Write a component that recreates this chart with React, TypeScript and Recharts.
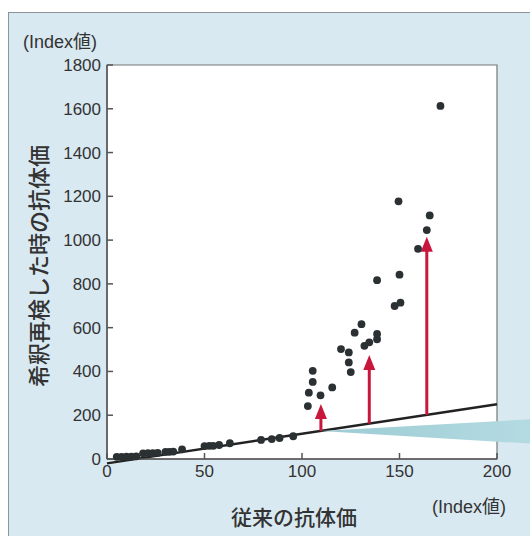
import { ScatterChart, Scatter, XAxis, YAxis, ReferenceLine, ReferenceArea, Label } from "recharts";

// axis ticks
const xTicks = [0, 50, 100, 150, 200];
const yTicks = [0, 200, 400, 600, 800, 1000, 1200, 1400, 1600, 1800];

// samples that sit on the fitted line (従来法 ≒ 再検)
const lowX = [5, 7.5, 10, 12.5, 15, 18.5, 21, 23.5, 26, 30, 32, 34, 38.5, 50, 52.5, 54.5, 57.5, 63, 79, 84.5, 88.5, 95.5];
const lowY = [10, 10, 11, 11, 12, 26, 27, 27, 28, 33, 33, 34, 44, 59, 60, 60, 64, 72, 87, 91, 96, 104];

// samples that jumped up after dilution re-test
const highX = [103, 103.5, 105.5, 105.5, 109.5, 115.5, 120, 124, 124, 125, 127, 130.5, 132, 134.5, 138.5, 138.5, 138.5, 147.5, 150.5, 150, 149.5, 159.5, 164, 165.5, 171];
const highY = [242, 303, 352, 403, 291, 327, 502, 487, 441, 397, 577, 616, 517, 533, 547, 571, 817, 699, 714, 842, 1177, 960, 1046, 1113, 1613];

// fitted line end points
const fitX = [0, 200];
const fitY = [-20, 250];

// red arrows: x, from (on line), to
const arrowX = [109.7, 134.5, 164];
const arrowFrom = [128, 162, 201];
const arrowTo = [251, 475, 1015];

const points = [...lowX.map((x, i) => ({ x, y: lowY[i] })), ...highX.map((x, i) => ({ x, y: highY[i] }))];
const wedge = [{ x: arrowX[0], y: arrowFrom[0] }];

const RED = "#c8163c";
const DOT = "#2b3133";
const TEXT = "#333";
const FONT = "'Liberation Sans', 'Noto Sans CJK JP', sans-serif";

const Dot = (props: any) => <circle cx={props.cx} cy={props.cy} r={3.9} fill={DOT} />;

const Wedge = (props: any) => {
  const { cx, cy } = props;
  return (
    <g>
      <defs>
        <linearGradient id="wedgeFill" x1="0" y1="0" x2="1" y2="0">
          <stop offset="0" stopColor="#9ccbd4" />
          <stop offset="1" stopColor="#b5dbe2" />
        </linearGradient>
      </defs>
      <polygon points={`${cx},${cy} ${cx + 215},${cy - 12} ${cx + 215},${cy + 13}`} fill="url(#wedgeFill)" />
    </g>
  );
};

const Arrow = (props: any) => {
  const { x1, y1, x2, y2 } = props;
  const top = Math.min(y1, y2);
  const bottom = Math.max(y1, y2);
  const x = (x1 + x2) / 2;
  return (
    <g>
      <line x1={x} y1={bottom} x2={x} y2={top + 12} stroke={RED} strokeWidth={3} />
      <polygon points={`${x},${top} ${x - 6},${top + 15} ${x + 6},${top + 15}`} fill={RED} />
    </g>
  );
};

export default function App() {
  return (
    <div style={{ position: "relative", width: 530, height: 536, background: "#fff", overflow: "hidden", fontFamily: FONT }}>
      <style>{`body{margin:0}`}</style>
      <div
        style={{
          position: "absolute",
          left: 8,
          top: 12,
          right: 0,
          bottom: 0,
          background: "#d9e9f1",
          borderLeft: "1.5px solid #8a9499",
          borderTop: "1.5px solid #8a9499",
        }}
      />
      <div style={{ position: "absolute", left: 23, top: 27, fontSize: 18, color: TEXT }}>(Index値)</div>
      <div style={{ position: "absolute", left: 432, top: 492, fontSize: 18, color: TEXT }}>(Index値)</div>
      <ScatterChart
        width={530}
        height={536}
        margin={{ top: 65, right: 33, bottom: 47, left: 0 }}
        style={{ position: "absolute", left: 0, top: 0 }}
      >
        <XAxis
          type="number"
          dataKey="x"
          domain={[0, 200]}
          ticks={xTicks}
          height={30}
          tickSize={-6}
          tickMargin={12}
          stroke="#555"
          strokeWidth={1.5}
          tick={{ fill: TEXT, fontSize: 17, fontFamily: FONT }}
        >
          <Label
            content={({ viewBox }: any) => (
              <text
                x={viewBox.x + viewBox.width / 2 - 8}
                y={viewBox.y + 66}
                textAnchor="middle"
                fontSize={21}
                fill={TEXT}
                fontFamily={FONT}
                fontWeight={500}
              >
                従来の抗体価
              </text>
            )}
          />
        </XAxis>
        <YAxis
          type="number"
          dataKey="y"
          domain={[0, 1800]}
          ticks={yTicks}
          width={107}
          tickSize={-6}
          tickMargin={12}
          stroke="#555"
          strokeWidth={1.5}
          tick={{ fill: TEXT, fontSize: 17, fontFamily: FONT }}
        >
          <Label
            content={({ viewBox }: any) => {
              const x = 39;
              const y = viewBox.y + viewBox.height / 2 + 4;
              return (
                <text
                  x={x}
                  y={y}
                  transform={`rotate(-90 ${x} ${y})`}
                  textAnchor="middle"
                  dominantBaseline="central"
                  fontSize={22}
                  fill={TEXT}
                  fontFamily={FONT}
                  fontWeight={500}
                >
                  希釈再検した時の抗体価
                </text>
              );
            }}
          />
        </YAxis>
        <ReferenceArea x1={0} x2={200} y1={0} y2={1800} fill="#fff" fillOpacity={1} stroke="#777" strokeWidth={1.2} />
        <Scatter data={wedge} shape={Wedge} isAnimationActive={false} />
        <ReferenceLine
          segment={[
            { x: fitX[0], y: fitY[0] },
            { x: fitX[1], y: fitY[1] },
          ]}
          stroke="#222"
          strokeWidth={2.5}
          ifOverflow="visible"
        />
        {arrowX.map((x, i) => (
          <ReferenceLine
            key={i}
            segment={[
              { x, y: arrowFrom[i] },
              { x, y: arrowTo[i] },
            ]}
            shape={Arrow}
            ifOverflow="visible"
          />
        ))}
        <Scatter data={points} shape={Dot} isAnimationActive={false} />
      </ScatterChart>
    </div>
  );
}
